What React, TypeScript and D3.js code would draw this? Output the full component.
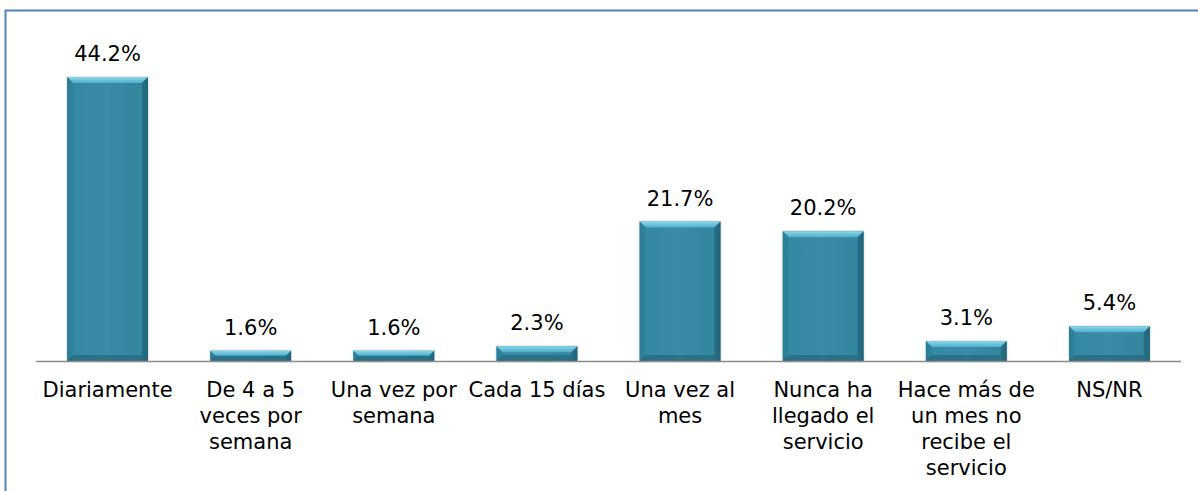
import React from "react";
import * as d3 from "d3";

const categories = [
  "Diariamente",
  "De 4 a 5\nveces por\nsemana",
  "Una vez por\nsemana",
  "Cada 15 días",
  "Una vez al\nmes",
  "Nunca ha\nllegado el\nservicio",
  "Hace más de\nun mes no\nrecibe el\nservicio",
  "NS/NR",
];
const values = [44.2, 1.6, 1.6, 2.3, 21.7, 20.2, 3.1, 5.4];

const W = 1198;
const H = 491;
const baseY = 361;
const FONT = "'DejaVu Sans', Verdana, sans-serif";

export default function App() {
  const x = d3
    .scaleBand<number>()
    .domain(d3.range(categories.length))
    .range([36, 1181])
    .paddingInner(0.435)
    .paddingOuter(0.2175);
  const y = d3.scaleLinear().domain([0, 44.2]).range([baseY, 77]);
  const bw = x.bandwidth();

  return (
    <svg
      width={W}
      height={H}
      style={{ position: "absolute", left: 0, top: 0, background: "#fff" }}
    >
      <defs>
        <linearGradient id="body" x1="0" x2="1" y1="0" y2="0">
          <stop offset="0" stopColor="#2a7890" />
          <stop offset="0.08" stopColor="#3589a3" />
          <stop offset="0.5" stopColor="#3a8aa6" />
          <stop offset="0.92" stopColor="#33869e" />
          <stop offset="1" stopColor="#286f86" />
        </linearGradient>
        <linearGradient id="top" x1="0" x2="0" y1="0" y2="1">
          <stop offset="0" stopColor="#8ad6ea" />
          <stop offset="1" stopColor="#4eaecb" />
        </linearGradient>
        <filter id="sh" x="-10%" y="-10%" width="120%" height="120%">
          <feDropShadow dx="0" dy="0" stdDeviation="1.2" floodColor="#000" floodOpacity="0.25" />
        </filter>
      </defs>
      <rect x={5.5} y={10.5} width={W + 20} height={H + 20} fill="none" stroke="#4f81bd" strokeWidth={2} />
      {values.map((v, i) => {
        const x0 = x(i)!;
        const yt = y(v);
        const h = baseY - yt;
        const bev = Math.min(6, h / 2);
        return (
          <g key={i} filter="url(#sh)">
            <rect x={x0} y={yt} width={bw} height={h} fill="url(#body)" />
            <polygon
              points={`${x0},${yt} ${x0 + bw},${yt} ${x0 + bw - bev},${yt + bev} ${x0 + bev},${yt + bev}`}
              fill="url(#top)"
            />
            <polygon
              points={`${x0},${yt} ${x0 + bev},${yt + bev} ${x0 + bev},${baseY - bev} ${x0},${baseY}`}
              fill="#2f7f97"
              opacity={0.6}
            />
            <polygon
              points={`${x0 + bw},${yt} ${x0 + bw - bev},${yt + bev} ${x0 + bw - bev},${baseY - bev} ${x0 + bw},${baseY}`}
              fill="#225f73"
              opacity={0.6}
            />
            <polygon
              points={`${x0},${baseY} ${x0 + bev},${baseY - bev} ${x0 + bw - bev},${baseY - bev} ${x0 + bw},${baseY}`}
              fill="#1f5a6c"
              opacity={0.5}
            />
          </g>
        );
      })}
      <line x1={36} x2={1181} y1={baseY + 0.5} y2={baseY + 0.5} stroke="#8c8c8c" strokeWidth={1.5} />
      {values.map((v, i) => (
        <text
          key={"v" + i}
          x={x(i)! + bw / 2}
          y={y(v) - 16}
          textAnchor="middle"
          fontFamily={FONT}
          fontSize={21}
          fill="#000"
        >
          {v.toFixed(1)}%
        </text>
      ))}
      {categories.map((c, i) => (
        <text
          key={"c" + i}
          x={x(i)! + bw / 2}
          y={397}
          textAnchor="middle"
          fontFamily={FONT}
          fontSize={21}
          fill="#000"
        >
          {c.split("\n").map((line, j) => (
            <tspan key={j} x={x(i)! + bw / 2} dy={j === 0 ? 0 : 26}>
              {line}
            </tspan>
          ))}
        </text>
      ))}
    </svg>
  );
}
